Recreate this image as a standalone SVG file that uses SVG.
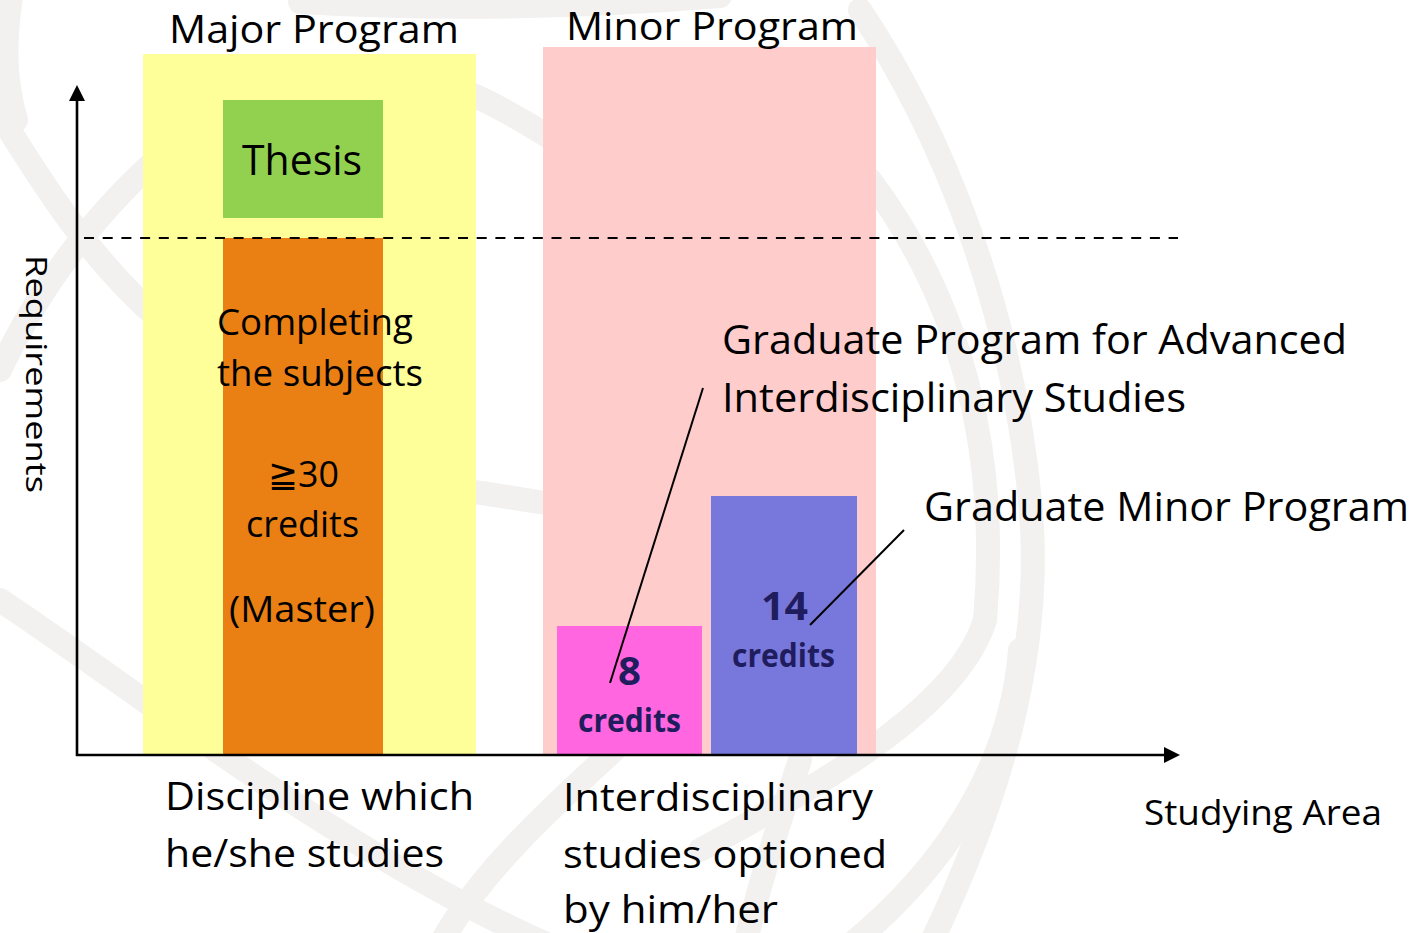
<svg xmlns="http://www.w3.org/2000/svg" width="1420" height="933" viewBox="0 0 1420 933">
<style>
  text { font-family: "Open Sans", "Noto Sans", "DejaVu Sans", sans-serif; fill: #000; }
  .wm { fill: none; stroke: #F2F1F0; stroke-width: 24; stroke-linecap: round; }
  .t39 { font-size: 39px; }
  .t38 { font-size: 37px; }
  .t40 { font-size: 40px; }
  .navy { fill: #1F1D5E; font-weight: bold; }
  .axis { stroke: #000; stroke-width: 2.6; fill: none; }
  .leader { stroke: #000; stroke-width: 2; fill: none; }
  .dash { stroke: #000; stroke-width: 2; stroke-dasharray: 10 8.7; fill: none; }
</style>
<defs>
  <marker id="arrow" markerUnits="userSpaceOnUse" markerWidth="16" markerHeight="16" refX="11" refY="8" orient="auto">
    <path d="M0,0 L16,8 L0,16 z" fill="#000"/>
  </marker>
</defs>
<rect width="1420" height="933" fill="#FFFFFF"/>
<g id="watermark">
  <path class="wm" d="M12 -10 C 4 40, 4 80, 16 120"/>
  <path class="wm" d="M0 115 C 40 180, 90 260, 160 320"/>
  <path class="wm" d="M0 370 C 80 200, 250 40, 400 70 C 460 82, 520 118, 570 150"/>
  <path class="wm" d="M300 2 Q 500 14 720 -4"/>
  <path class="wm" d="M0 600 C 150 700, 350 860, 560 950"/>
  <path class="wm" d="M300 470 C 400 480, 500 495, 600 512"/>
  <path class="wm" d="M860 10 C 940 130, 1010 300, 1030 500 C 1045 650, 1000 800, 930 945"/>
  <path class="wm" d="M870 180 C 960 300, 1000 450, 985 620 C 960 700, 850 770, 700 850"/>
  <path class="wm" d="M1020 650 C 1010 780, 930 880, 850 945"/>
  <path class="wm" d="M625 740 C 560 800, 480 870, 440 945"/>
  <path class="wm" d="M800 760 C 780 820, 760 880, 745 945"/>
</g>
<g id="major-program">
  <rect x="143" y="54" width="333" height="701" fill="#FFFF99"/>
  <text class="t39" x="169" y="43" textLength="290" lengthAdjust="spacingAndGlyphs">Major Program</text>
</g>
<g id="minor-program">
  <rect x="543" y="47" width="333" height="708" fill="#FFCCCC"/>
  <text class="t39" x="566" y="40" textLength="292" lengthAdjust="spacingAndGlyphs">Minor Program</text>
</g>
<g id="thesis">
  <rect x="223" y="100" width="160" height="118" fill="#92D050"/>
  <text x="242" y="175" font-size="42" textLength="120" lengthAdjust="spacingAndGlyphs">Thesis</text>
</g>
<g id="subjects">
  <rect x="223" y="238" width="160" height="517" fill="#EA7F13"/>
  <text class="t38" x="217" y="335" textLength="196" lengthAdjust="spacingAndGlyphs">Completing</text>
  <text class="t38" x="217" y="386" textLength="206" lengthAdjust="spacingAndGlyphs">the subjects</text>
  <text class="t38" x="268" y="487" textLength="71" lengthAdjust="spacingAndGlyphs"><tspan font-family="DejaVu Sans, sans-serif">≧</tspan>30</text>
  <text class="t38" x="246" y="537" textLength="113" lengthAdjust="spacingAndGlyphs">credits</text>
  <text class="t38" x="229" y="622" textLength="146" lengthAdjust="spacingAndGlyphs">(Master)</text>
</g>
<g id="advanced-program">
  <rect x="557" y="626" width="145" height="129" fill="#FF66E0"/>
  <text class="navy" x="618" y="685" font-size="40" textLength="23" lengthAdjust="spacingAndGlyphs">8</text>
  <text class="navy" x="578" y="732" font-size="32" textLength="103" lengthAdjust="spacingAndGlyphs">credits</text>
</g>
<g id="minor-credits">
  <rect x="711" y="496" width="146" height="259" fill="#7878DC"/>
  <text class="navy" x="761" y="620" font-size="40" textLength="47" lengthAdjust="spacingAndGlyphs">14</text>
  <text class="navy" x="732" y="667" font-size="32" textLength="103" lengthAdjust="spacingAndGlyphs">credits</text>
</g>
<g id="connectors">
  <line class="dash" x1="84" y1="238" x2="1178" y2="238"/>
  <line class="axis" x1="77" y1="756" x2="77" y2="90" marker-end="url(#arrow)"/>
  <line class="axis" x1="76" y1="755" x2="1175" y2="755" marker-end="url(#arrow)"/>
  <line class="leader" x1="703" y1="388" x2="610" y2="683"/>
  <line class="leader" x1="904" y1="530" x2="810" y2="625"/>
</g>
<g id="labels">
  <text class="t40" x="722" y="354" textLength="625" lengthAdjust="spacingAndGlyphs">Graduate Program for Advanced</text>
  <text class="t40" x="722" y="412" textLength="464" lengthAdjust="spacingAndGlyphs">Interdisciplinary Studies</text>
  <text class="t40" x="924" y="521" textLength="485" lengthAdjust="spacingAndGlyphs">Graduate Minor Program</text>
  <text class="t39" x="165" y="810" textLength="309" lengthAdjust="spacingAndGlyphs">Discipline which</text>
  <text class="t39" x="165" y="867" textLength="279" lengthAdjust="spacingAndGlyphs">he/she studies</text>
  <text class="t39" x="563" y="811" textLength="310" lengthAdjust="spacingAndGlyphs">Interdisciplinary</text>
  <text class="t39" x="563" y="868" textLength="324" lengthAdjust="spacingAndGlyphs">studies optioned</text>
  <text class="t39" x="563" y="923" textLength="215" lengthAdjust="spacingAndGlyphs">by him/her</text>
  <text x="1144" y="825" font-size="35" textLength="238" lengthAdjust="spacingAndGlyphs">Studying Area</text>
  <text x="26" y="255" font-size="29" transform="rotate(90 26 255)" textLength="238" lengthAdjust="spacingAndGlyphs">Requirements</text>
</g>
</svg>
